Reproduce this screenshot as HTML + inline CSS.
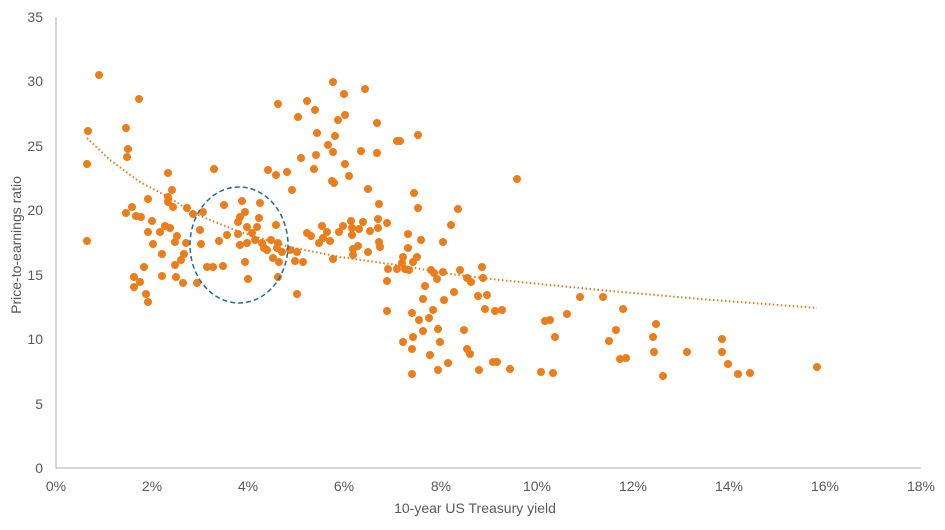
<!DOCTYPE html><html><head><style>body{margin:0;background:#fff}svg text{font-family:"Liberation Sans",sans-serif;fill:#595959}</style></head><body>
<svg width="945" height="525" xmlns="http://www.w3.org/2000/svg">
<g font-size="14" text-anchor="end">
<text x="43" y="22">35</text><text x="43" y="86">30</text><text x="43" y="151">25</text><text x="43" y="215">20</text><text x="43" y="280">15</text><text x="43" y="344">10</text><text x="43" y="409">5</text><text x="43" y="473">0</text></g>
<g font-size="14" text-anchor="middle">
<text x="56" y="491">0%</text><text x="152" y="491">2%</text><text x="248" y="491">4%</text><text x="344" y="491">6%</text><text x="441" y="491">8%</text><text x="537" y="491">10%</text><text x="633" y="491">12%</text><text x="729" y="491">14%</text><text x="825" y="491">16%</text><text x="921" y="491">18%</text>
<text x="475" y="513">10-year US Treasury yield</text>
<text transform="translate(21,245) rotate(-90)">Price-to-earnings ratio</text></g>
<path d="M56 17V468H921" fill="none" stroke="#bfbfbf" stroke-width="1.3"/>
<g fill="#ED7D1A" id="d"></g>
<polyline points="87,138 110,160 140,182 170,198 193,213 240,232 290,247 340,257 397,265 450,274 500,280 600,290 700,299 817,308" fill="none" stroke="#E07A1F" stroke-width="2" stroke-dasharray="1.5,2.5"/>
<ellipse cx="239" cy="245" rx="49" ry="58" fill="none" stroke="#1F6E8C" stroke-width="1.5" stroke-dasharray="5,3"/>
</svg>
<script>
var p=[99,75,139,99,88,131,126,128,128,149,127,157,87,164,168,173,214,169,172,190,168,197,168,202,173,207,148,199,132,207,126,213,136,216,141,217,152,221,187,208,193,214,203,212,165,226,170,228,160,232,148,232,177,236,175,242,186,243,153,244,87,241,200,230,201,244,224,205,242,201,260,203,245,212,240,217,259,218,238,222,276,225,227,235,219,241,238,234,247,227,252,233,257,227,255,240,247,243,240,245,262,243,271,240,264,248,267,250,278,243,277,248,282,252,290,250,297,252,273,258,279,262,295,261,303,262,245,262,207,267,213,267,223,266,162,254,184,254,181,260,175,265,144,267,134,277,140,282,134,287,162,276,176,277,183,283,197,283,146,294,148,302,248,279,278,277,297,294,278,104,307,101,315,110,298,117,333,82,344,94,365,89,338,120,345,115,317,133,335,136,377,123,397,141,328,145,333,152,316,155,361,151,377,153,301,158,314,169,345,164,349,176,332,181,334,183,268,170,276,175,287,172,292,190,368,189,379,204,322,226,307,233,311,236,327,232,323,238,330,241,319,243,339,232,343,226,351,221,352,228,352,235,359,229,363,222,370,231,378,219,378,228,387,223,379,242,380,247,358,246,353,249,353,255,368,252,333,259,388,269,397,269,387,281,387,311,
418,135,400,141,517,179,414,193,418,208,458,209,451,225,408,234,421,240,443,242,408,248,403,257,417,257,413,262,402,263,405,269,409,270,431,270,434,273,437,279,443,272,460,270,467,278,471,282,482,267,483,278,425,286,454,292,478,296,487,295,423,299,444,300,580,297,603,297,485,309,495,311,502,310,623,309,433,310,412,313,429,318,419,320,567,314,545,321,550,320,656,324,438,329,464,330,616,330,423,331,413,337,555,337,653,337,722,339,403,342,440,342,609,341,412,349,467,349,470,354,654,352,687,352,722,352,430,355,620,359,626,358,728,364,448,363,493,362,497,362,438,370,479,370,510,369,541,372,553,373,738,374,750,373,817,367,663,376,412,374];
var g=document.getElementById('d'),s='';for(var i=0;i<p.length;i+=2)s+='<circle cx="'+p[i]+'" cy="'+p[i+1]+'" r="4"/>';g.innerHTML=s;
</script></body></html>
